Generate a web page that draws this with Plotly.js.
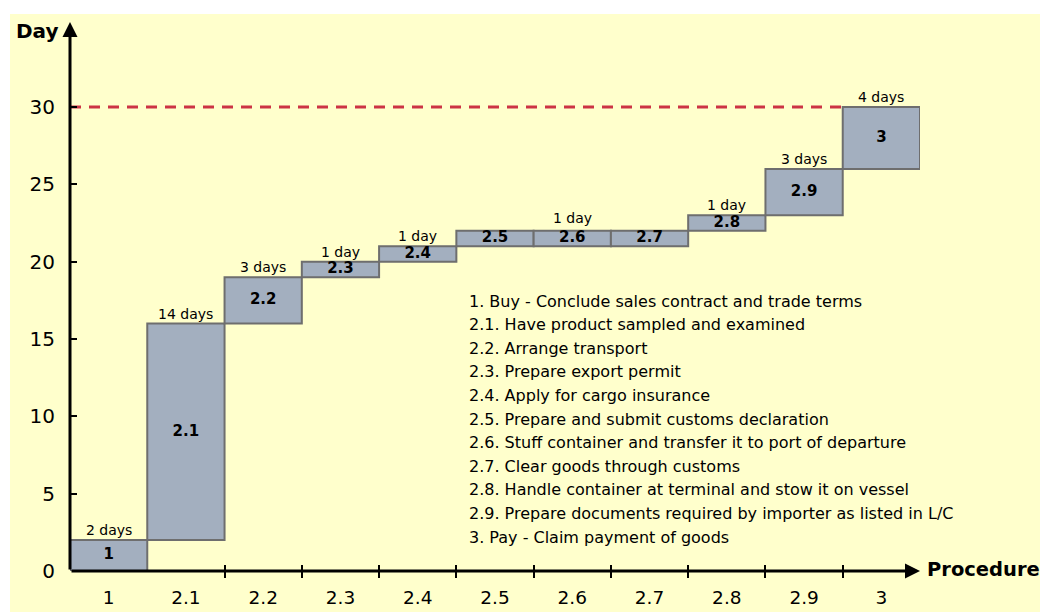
<!DOCTYPE html>
<html>
<head>
<meta charset="utf-8">
<script src="https://cdn.plot.ly/plotly-3.0.1.min.js"></script>
<style>html,body{margin:0;padding:0;background:#fff;}#chart{width:1040px;height:612px;}</style>
</head>
<body>
<div id="chart"></div>
<script>
// ---- data ----
const categories = ['1','2.1','2.2','2.3','2.4','2.5','2.6','2.7','2.8','2.9','3'];
const startDay   = [0, 2, 16, 19, 20, 21, 21, 21, 22, 23, 26];
const durations  = [2, 14, 3, 1, 1, 1, 1, 1, 1, 3, 4];
const dayLabels  = ['2 days','14 days','3 days','1 day','1 day','','1 day','','1 day','3 days','4 days'];
const targetDay  = 30;
const yTicks     = [0, 5, 10, 15, 20, 25, 30];
const descriptions = [
  '1. Buy - Conclude sales contract and trade terms',
  '2.1. Have product sampled and examined',
  '2.2. Arrange transport',
  '2.3. Prepare export permit',
  '2.4. Apply for cargo insurance',
  '2.5. Prepare and submit customs declaration',
  '2.6. Stuff container and transfer it to port of departure',
  '2.7. Clear goods through customs',
  '2.8. Handle container at terminal and stow it on vessel',
  '2.9. Prepare documents required by importer as listed in L/C',
  '3. Pay - Claim payment of goods'
];

// ---- derived ----
const n = categories.length;
const centers = categories.map((c, i) => i + 0.5);
const boundaries = categories.map((c, i) => i).filter(i => i >= 2);
const tops = startDay.map((s, i) => s + durations[i]);
const mids = startDay.map((s, i) => s + durations[i] / 2);
const xMax = n;
const yMax = 35.5;

const FONT = 'DejaVu Sans, Verdana, sans-serif';

const traces = [
  {
    type: 'bar', x: centers, y: durations, base: startDay, width: 1,
    marker: {color: '#a3afbf', line: {color: '#6e6e6e', width: 2}},
    hoverinfo: 'skip', showlegend: false
  },
  {
    type: 'scatter', mode: 'text', x: centers, y: mids, text: categories,
    textfont: {family: FONT, size: 15, color: '#000', weight: 'bold'},
    textposition: 'middle center', hoverinfo: 'skip', showlegend: false
  },
  {
    type: 'scatter', mode: 'lines', x: [0, startDay.length - 1], y: [targetDay, targetDay],
    line: {color: '#cc3344', width: 3, dash: '11px,8px'},
    hoverinfo: 'skip', showlegend: false
  }
];

const L = 70, R = 120, T = 22, B = 41, W = 1040, H = 612;
const pw = W - L - R, ph = H - T - B;
const px2x = p => (p - L) / pw;
const py2y = p => (H - B - p) / ph;

const annotations = [];
// axis arrows
annotations.push({x: xMax, y: 0, ax: 0, ay: 0, xref: 'x', yref: 'y', axref: 'x', ayref: 'y',
  text: '', showarrow: true, arrowhead: 2, arrowsize: 1, arrowwidth: 3, arrowcolor: '#000', standoff: 0, startstandoff: 0});
annotations.push({x: 0, y: yMax, ax: 0, ay: 0, xref: 'x', yref: 'y', axref: 'x', ayref: 'y',
  text: '', showarrow: true, arrowhead: 2, arrowsize: 1, arrowwidth: 3, arrowcolor: '#000', standoff: 0, startstandoff: 0});
// axis titles
annotations.push({x: px2x(14), y: py2y(31), xref: 'paper', yref: 'paper', xanchor: 'left', yanchor: 'middle',
  text: '<b>Day</b>', showarrow: false, font: {family: FONT, size: 20, color: '#000'}});
annotations.push({x: px2x(925), y: py2y(569), xref: 'paper', yref: 'paper', xanchor: 'left', yanchor: 'middle',
  text: '<b>Procedure</b>', showarrow: false, font: {family: FONT, size: 19.5, color: '#000'}});
// duration labels
dayLabels.forEach((t, i) => {
  if (!t) return;
  annotations.push({x: centers[i], y: tops[i], xref: 'x', yref: 'y', xanchor: 'center', yanchor: 'bottom',
    text: t, showarrow: false, yshift: (i === 6 ? 3 : 0), font: {family: FONT, size: 14, color: '#000'}});
});
// description list
descriptions.forEach((t, i) => {
  annotations.push({x: px2x(467), y: py2y(301 + i * 23.6), xref: 'paper', yref: 'paper', xanchor: 'left', yanchor: 'middle',
    text: t, showarrow: false, font: {family: FONT, size: 16, color: '#000'}});
});

const layout = {
  width: W, height: H,
  margin: {l: L, r: R, t: T, b: B, pad: 0},
  paper_bgcolor: '#ffffff', plot_bgcolor: 'rgba(0,0,0,0)',
  font: {family: FONT, color: '#000'},
  showlegend: false,
  xaxis: {
    range: [0, xMax], fixedrange: true, showgrid: false, zeroline: false, showline: false,
    tickmode: 'array', tickvals: centers, ticktext: categories, ticks: '',
    tickfont: {family: FONT, size: 18.5, color: '#000'}, ticklabelstandoff: 13,
    minor: {tickmode: 'array', tickvals: boundaries, ticks: 'outside', ticklen: 6, tickwidth: 2, tickcolor: '#000', showgrid: false}
  },
  xaxis2: {
    overlaying: 'x', anchor: 'y', range: [0, xMax], fixedrange: true, showgrid: false, zeroline: false, showline: false,
    tickmode: 'array', tickvals: boundaries, ticks: 'inside', ticklen: 6, tickwidth: 2, tickcolor: '#000', showticklabels: false
  },
  yaxis: {
    range: [0, yMax], fixedrange: true, showgrid: false, zeroline: false, showline: false,
    tickmode: 'array', tickvals: yTicks, ticks: 'inside', ticklen: 7, tickwidth: 2, tickcolor: '#000',
    tickfont: {family: FONT, size: 20, color: '#000'}, ticklabelstandoff: 14
  },
  shapes: [{type: 'rect', xref: 'paper', yref: 'paper', x0: px2x(10), x1: px2x(1045), y0: py2y(620), y1: py2y(14),
    fillcolor: '#ffffcc', line: {width: 0}, layer: 'below'}],
  annotations: annotations
};

// empty trace on xaxis2 so its ticks render
traces.push({type: 'scatter', mode: 'markers', x: [], y: [], xaxis: 'x2', yaxis: 'y', hoverinfo: 'skip', showlegend: false});

Plotly.newPlot('chart', traces, layout, {displayModeBar: false, staticPlot: true});
</script>
</body>
</html>
